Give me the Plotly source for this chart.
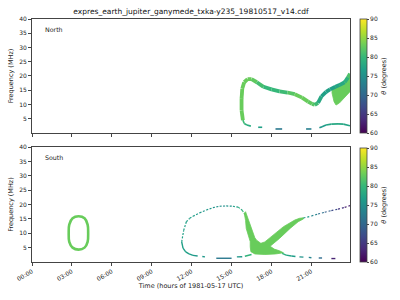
import math
import plotly.graph_objects as go
from plotly.colors import sample_colorscale

NAN = float("nan")

# ---------------- data (hours UTC, MHz, theta degrees) ----------------
title_text = "expres_earth_jupiter_ganymede_txka-y235_19810517_v14.cdf"
x_tick_vals = [0, 3, 6, 9, 12, 15, 18, 21]
x_tick_text = ["00:00", "03:00", "06:00", "09:00", "12:00", "15:00", "18:00", "21:00"]
y_tick_vals = [5, 10, 15, 20, 25, 30, 35, 40]
cb_tick_vals = [60, 65, 70, 75, 80, 85, 90]

# North: main arc
n_arc_t = [15.85, 15.75, 15.75, 15.8, 15.95, 16.2, 16.5, 16.9, 17.4, 18.0, 18.6, 19.2, 19.75, 20.3, 20.75, 21.05, 21.25, 21.5, 21.75, 22.1, 22.4, 22.8, 23.1, 23.5, 23.75, 23.9]
n_arc_f = [4.5, 8.0, 12.0, 15.5, 17.8, 18.9, 18.9, 17.8, 16.2, 15.3, 14.6, 14.2, 13.6, 12.4, 11.0, 10.2, 9.9, 10.6, 12.8, 14.4, 15.3, 16.2, 16.8, 17.8, 19.5, 20.8]
n_arc_th = [83, 83, 83, 83, 83, 83, 83, 82, 80, 80, 80, 81, 83, 83, 83, 82, 82, 79, 77, 77, 77, 77, 78, 78, 80, 83]

# North: wedge below the right end of the arc
n_wedge_t = [22.55, 23.0, 23.5, 23.9, 23.9, 23.5, 23.1, 22.85, 22.7, 22.55]
n_wedge_f = [15.8, 16.9, 17.5, 20.8, 14.5, 12.5, 10.5, 9.8, 11.0, 14.0]
n_wedge_th = 83

# North: low-frequency branch (NaN = no emission)
n_low_t = [15.85, 15.95, 16.15, 16.45, NAN, 17.0, 17.3, NAN, 18.3, 18.8, NAN, 20.6, 21.0, NAN, 21.6, 21.8, 22.1, 22.5, 23.0, 23.4, 23.9]
n_low_f = [4.5, 3.3, 2.8, 2.4, NAN, 2.0, 2.0, NAN, 1.4, 1.4, NAN, 1.4, 1.4, NAN, 1.8, 2.2, 2.8, 3.1, 3.2, 3.1, 2.5]
n_low_th = [81, 80, 79, 78, NAN, 77, 77, NAN, 72, 72, NAN, 73, 73, NAN, 75, 76, 77, 78, 78, 78, 77]

# South: oval
s_oval_t = [3.5, 3.95, 4.18, 4.22, 4.18, 3.95, 3.5, 3.05, 2.8, 2.76, 2.8, 3.05, 3.5]
s_oval_f = [15.9, 15.2, 13.0, 10.2, 7.0, 5.0, 4.3, 5.0, 7.0, 10.2, 13.0, 15.2, 15.9]
s_oval_th = 83

# South: loop upper arc (thin)
s_up_t = [11.25, 11.4, 11.6, 11.85, 12.1, 12.6, 13.1, 13.6, 14.1, 14.6, 15.1, 15.5, 15.8, 16.0]
s_up_f = [7.0, 11.0, 14.0, 15.2, 15.9, 17.1, 18.1, 18.9, 19.4, 19.5, 19.4, 19.1, 18.0, 16.5]
s_up_th = [77, 77, 77, 77, 77, 76, 76, 76, 75, 75, 76, 78, 79, 81]

# South: loop lower part
s_lo_t = [11.25, 11.35, 11.55, 11.8, 12.1, 12.45, NAN, 12.8, 13.0, NAN, 13.85, 15.0, NAN, 15.4, 15.8, NAN, 16.0, 16.5]
s_lo_f = [7.0, 4.8, 3.5, 2.8, 2.3, 2.1, NAN, 1.9, 1.8, NAN, 1.3, 1.3, NAN, 1.8, 1.85, NAN, 2.0, 2.6]
s_lo_th = [77, 77, 77, 77, 76, 76, NAN, 76, 76, NAN, 72, 72, NAN, 76, 76, NAN, 78, 81]

# South: V-shaped band (outline)
s_v_t = [15.95, 16.05, 16.1, 16.25, 16.4, 16.4, 16.45, 16.75, 17.5, 18.3, 18.9, 18.6, 18.2, 17.9, 18.6, 19.4, 20.0, 20.4, 20.4, 20.1, 19.75, 18.9, 18.1, 17.5, 17.2, 16.9, 16.75, 16.5, 16.3, 16.15, 16.05]
s_v_f = [17.0, 14.5, 11.7, 9.0, 7.1, 5.3, 3.6, 2.8, 2.6, 2.8, 3.2, 3.9, 4.5, 5.5, 8.2, 11.7, 14.0, 15.0, 15.4, 15.2, 14.6, 12.3, 9.4, 7.0, 6.5, 7.5, 8.4, 11.7, 14.5, 16.5, 17.5]
s_v_th = 83

# South: right high-frequency branch (dotted)
s_hi_t = [20.4, 21.0, 21.5, 22.0, 22.5, 23.0, 23.5, 23.9]
s_hi_f = [15.3, 16.0, 16.7, 17.3, 17.9, 18.4, 19.0, 19.6]
s_hi_th = [77, 75, 72, 70, 68, 66, 63, 62]

# South: right low-frequency branch
s_rl_t = [18.8, 19.1, 19.5, 19.8, NAN, 20.1, 20.4, NAN, 20.8, 21.0, NAN, 21.55, 21.8, NAN, 22.5, 22.8]
s_rl_f = [3.0, 2.4, 2.1, 1.9, NAN, 1.8, 1.7, NAN, 1.6, 1.5, NAN, 1.4, 1.4, NAN, 1.2, 1.2]
s_rl_th = [80, 78, 77, 76, NAN, 76, 75, NAN, 74, 73, NAN, 71, 70, NAN, 63, 63]

# ---------------- drawing ----------------
def col(theta):
    v = min(max((theta - 60.0) / 30.0, 0.0), 1.0)
    return sample_colorscale("Viridis", [v])[0]

fig = go.Figure()

def add_curve(xax, yax, t, f, th, width, dash="solid"):
    for i in range(len(t) - 1):
        vals = [t[i], t[i + 1], f[i], f[i + 1], th[i], th[i + 1]]
        if any(isinstance(v, float) and math.isnan(v) for v in vals):
            continue
        fig.add_trace(go.Scatter(
            x=[t[i], t[i + 1]], y=[f[i], f[i + 1]], mode="lines",
            line=dict(color=col((th[i] + th[i + 1]) / 2), width=width, dash=dash),
            showlegend=False, hoverinfo="skip", xaxis=xax, yaxis=yax))

def add_poly(xax, yax, t, f, th):
    c = col(th)
    fig.add_trace(go.Scatter(
        x=t + [t[0]], y=f + [f[0]], mode="lines", fill="toself", fillcolor=c,
        line=dict(color=c, width=0.8), showlegend=False, hoverinfo="skip",
        xaxis=xax, yaxis=yax))

# North (top)
add_poly("x", "y", n_wedge_t, n_wedge_f, n_wedge_th)
add_curve("x", "y", n_arc_t, n_arc_f, n_arc_th, 3.8)
add_curve("x", "y", n_low_t, n_low_f, n_low_th, 1.6)

# South (bottom)
fig.add_trace(go.Scatter(x=s_oval_t, y=s_oval_f, mode="lines",
                         line=dict(color=col(s_oval_th), width=2.6, shape="spline"),
                         showlegend=False, hoverinfo="skip", xaxis="x2", yaxis="y2"))
add_curve("x2", "y2", s_up_t, s_up_f, s_up_th, 1.2, dash="2px,1.5px")
add_curve("x2", "y2", s_lo_t, s_lo_f, s_lo_th, 1.4)
add_poly("x2", "y2", s_v_t, s_v_f, s_v_th)
add_curve("x2", "y2", s_hi_t, s_hi_f, s_hi_th, 1.2, dash="2px,2px")
add_curve("x2", "y2", s_rl_t, s_rl_f, s_rl_th, 1.4)

# colourbars
def cbar(yax, y0, yanchor):
    fig.add_trace(go.Scatter(
        x=[1], y=[-50], mode="markers",
        marker=dict(color=[60], colorscale="Viridis", cmin=60, cmax=90, showscale=True,
                    colorbar=dict(x=1.031, xanchor="left", y=y0, yanchor=yanchor,
                                  len=0.469, lenmode="fraction", thickness=7,
                                  xpad=0, ypad=0,
                                  outlinewidth=0.8, outlinecolor="#444",
                                  tickvals=cb_tick_vals, ticks="outside", ticklen=2,
                                  tickcolor="#444", tickfont=dict(size=6, color="#222"),
                                  title=dict(text="<i>θ</i> (degrees)", side="right",
                                             font=dict(size=6.5, color="#222")))),
        showlegend=False, hoverinfo="skip", xaxis="x" if yax == "y" else "x2", yaxis=yax))

cbar("y", 1.0, "top")
cbar("y2", 0.0, "bottom")

axis_common = dict(showline=True, linecolor="#444", linewidth=0.8, mirror=True,
                   ticks="outside", ticklen=3, tickcolor="#444", showgrid=False,
                   zeroline=False, tickfont=dict(size=6, color="#222"))

fig.update_layout(
    width=400, height=300,
    margin=dict(l=31.7, r=50, t=19, b=38, pad=0, autoexpand=False),
    paper_bgcolor="white", plot_bgcolor="white",
    font=dict(family="DejaVu Sans", color="#222"),
    title=dict(text=title_text, x=0.5, xref="paper", y=1 - 11 / 300, yanchor="middle",
               xanchor="center", font=dict(size=7.5, color="#111")),
    xaxis=dict(domain=[0, 1], range=[0, 23.9], tickvals=x_tick_vals, showticklabels=False,
               anchor="y", **axis_common),
    yaxis=dict(domain=[0.531, 1], range=[0, 40], tickvals=y_tick_vals,
               title=dict(text="Frequency (MHz)", font=dict(size=6.5), standoff=4),
               anchor="x", **axis_common),
    xaxis2=dict(domain=[0, 1], range=[0, 23.9], tickvals=x_tick_vals, ticktext=x_tick_text,
                tickangle=-30, anchor="y2",
                title=dict(text="Time (hours of 1981-05-17 UTC)", font=dict(size=6.5), standoff=2),
                **axis_common),
    yaxis2=dict(domain=[0, 0.473], range=[0, 40], tickvals=y_tick_vals,
                title=dict(text="Frequency (MHz)", font=dict(size=6.5), standoff=4),
                anchor="x2", **axis_common),
    annotations=[
        dict(text="North", xref="x domain", yref="y domain", x=0.035, y=0.91,
             xanchor="left", yanchor="middle", showarrow=False, font=dict(size=6.3, color="#222")),
        dict(text="South", xref="x2 domain", yref="y2 domain", x=0.035, y=0.91,
             xanchor="left", yanchor="middle", showarrow=False, font=dict(size=6.3, color="#222")),
    ],
)

fig.write_html("out.html")
